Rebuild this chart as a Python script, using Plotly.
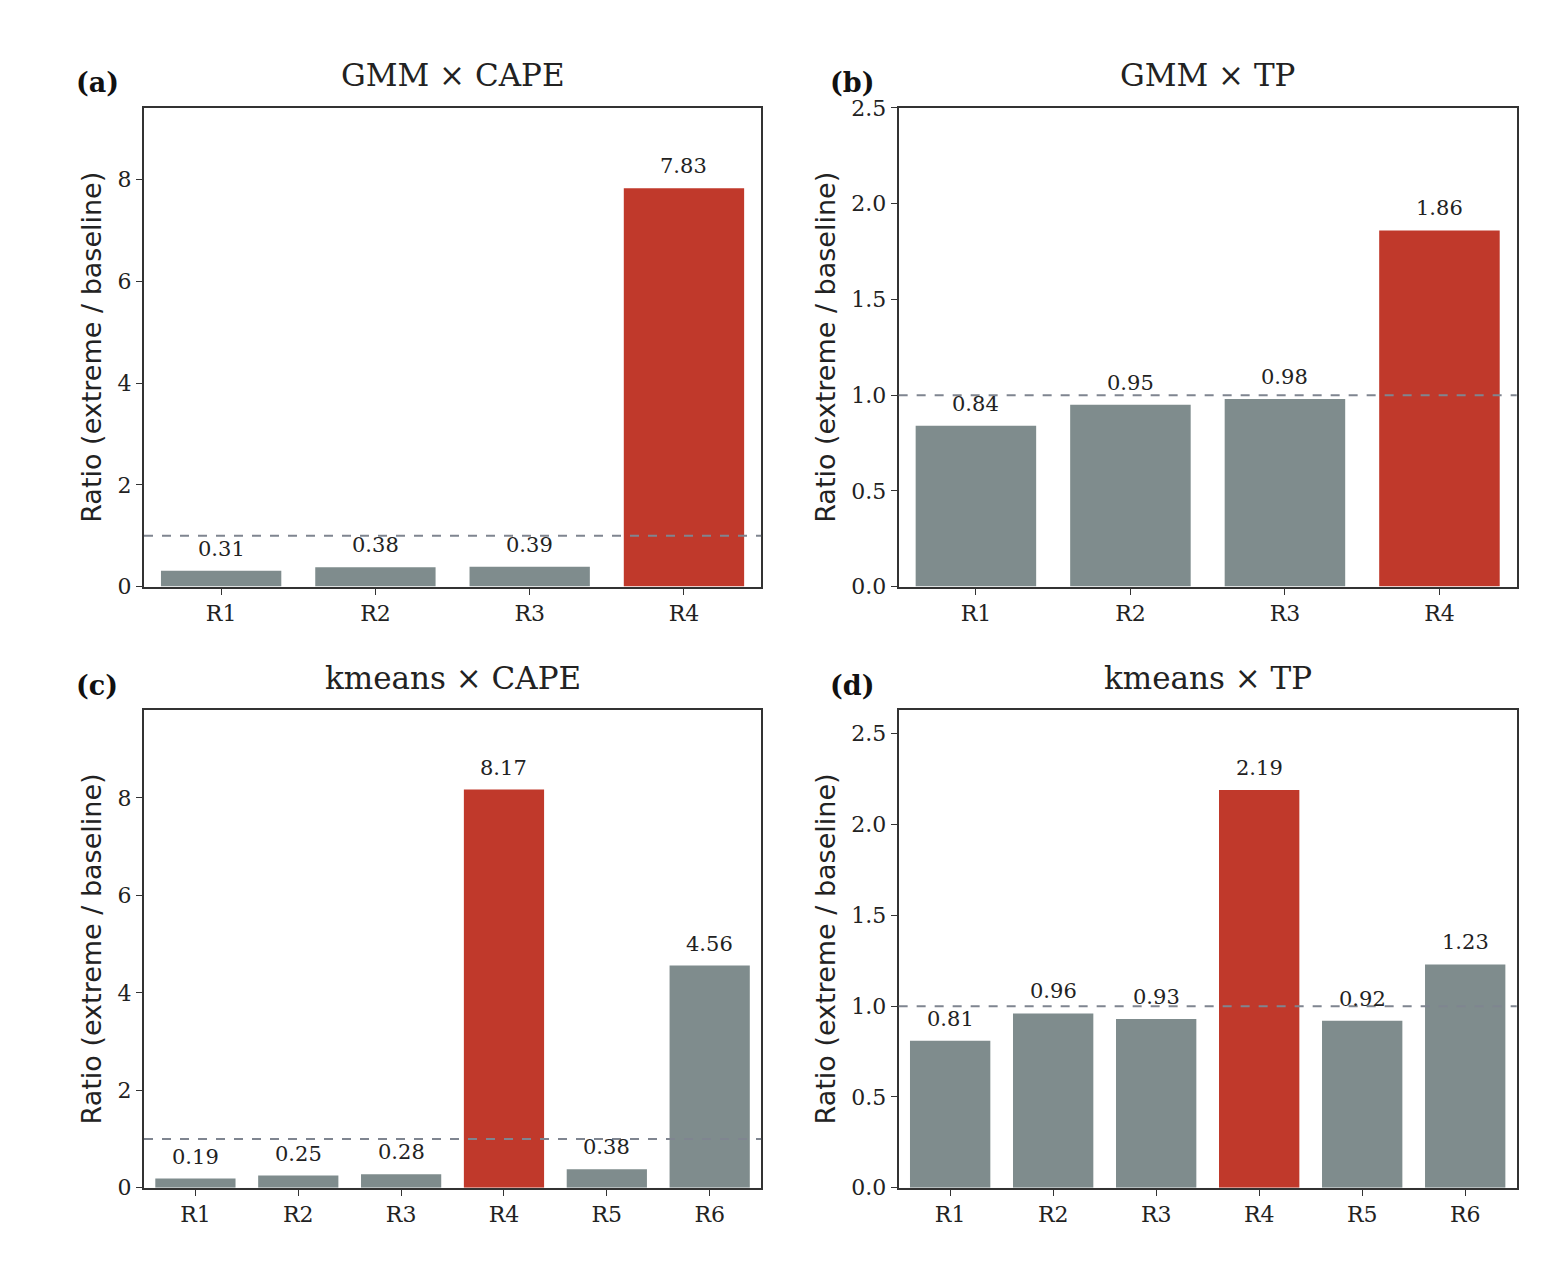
import plotly.graph_objects as go
from plotly.subplots import make_subplots

gmm_regions = ["R1", "R2", "R3", "R4"]
gmm_cape = [0.31, 0.38, 0.39, 7.83]
gmm_tp = [0.84, 0.95, 0.98, 1.86]
km_regions = ["R1", "R2", "R3", "R4", "R5", "R6"]
km_cape = [0.19, 0.25, 0.28, 8.17, 0.38, 4.56]
km_tp = [0.81, 0.96, 0.93, 2.19, 0.92, 1.23]
extreme_region = "R4"

titles = ["GMM × CAPE", "GMM × TP", "kmeans × CAPE", "kmeans × TP"]
labels = ["(a)", "(b)", "(c)", "(d)"]
panels = [(gmm_regions, gmm_cape), (gmm_regions, gmm_tp),
          (km_regions, km_cape), (km_regions, km_tp)]
y_ranges = [[0, 9.41], [0, 2.5], [0, 9.8], [0, 2.63]]
y_ticks = [[0, 2, 4, 6, 8], [0, 0.5, 1, 1.5, 2, 2.5],
           [0, 2, 4, 6, 8], [0, 0.5, 1, 1.5, 2, 2.5]]
fmt = [".0f", ".1f", ".0f", ".1f"]

GREY = "#7f8c8d"
RED = "#c0392b"
FONT = "DejaVu Serif"

x_domains = [[0.0874, 0.4840], [0.5724, 0.9696]]
y_domains = [[0.5478, 0.9298], [0.0680, 0.4492]]

fig = make_subplots(rows=2, cols=2)

for i, (regs, vals) in enumerate(panels):
    r, c = i // 2 + 1, i % 2 + 1
    colors = [RED if g == extreme_region else GREY for g in regs]
    fig.add_trace(go.Bar(x=regs, y=vals, marker_color=colors, marker_line_width=0,
                         showlegend=False), row=r, col=c)
    for g, v in zip(regs, vals):
        fig.add_annotation(x=g, y=v, text=f"{v:.2f}", showarrow=False, yanchor="bottom",
                           yshift=8, font=dict(family=FONT, size=21, color="#222"),
                           row=r, col=c)
    fig.add_hline(y=1, line_dash="dash", line_color="#7f8590", line_width=2, row=r, col=c)
    fig.update_xaxes(domain=x_domains[c - 1], showline=True, mirror=True, linecolor="#333",
                     linewidth=2, ticks="outside", ticklen=6, tickcolor="#333",
                     tickfont=dict(family=FONT, size=22, color="#222"), row=r, col=c)
    fig.update_yaxes(domain=y_domains[r - 1], range=y_ranges[i], tickvals=y_ticks[i],
                     tickformat=fmt[i], showline=True, mirror=True, linecolor="#333",
                     linewidth=2, ticks="outside", ticklen=6, tickcolor="#333", showgrid=False,
                     zeroline=False, tickfont=dict(family=FONT, size=22, color="#222"),
                     title=dict(text="Ratio (extreme / baseline)", standoff=8,
                                font=dict(family="DejaVu Sans", size=27, color="#222")),
                     row=r, col=c)
    xd, yd = x_domains[c - 1], y_domains[r - 1]
    fig.add_annotation(text=titles[i], x=(xd[0] + xd[1]) / 2, y=yd[1] + 0.01, xref="paper",
                       yref="paper", xanchor="center", yanchor="bottom", showarrow=False,
                       font=dict(family=FONT, size=31, color="#222"))
    fig.add_annotation(text=f"<b>{labels[i]}</b>", x=xd[0] - 0.03, y=yd[1] + 0.006,
                       xref="paper", yref="paper", xanchor="center", yanchor="bottom",
                       showarrow=False, font=dict(family=FONT, size=27, color="#111"))

fig.update_layout(width=1556, height=1278, margin=dict(l=0, r=0, t=0, b=0),
                  plot_bgcolor="white", paper_bgcolor="white", bargap=0.22)
fig.write_html("out.html")
